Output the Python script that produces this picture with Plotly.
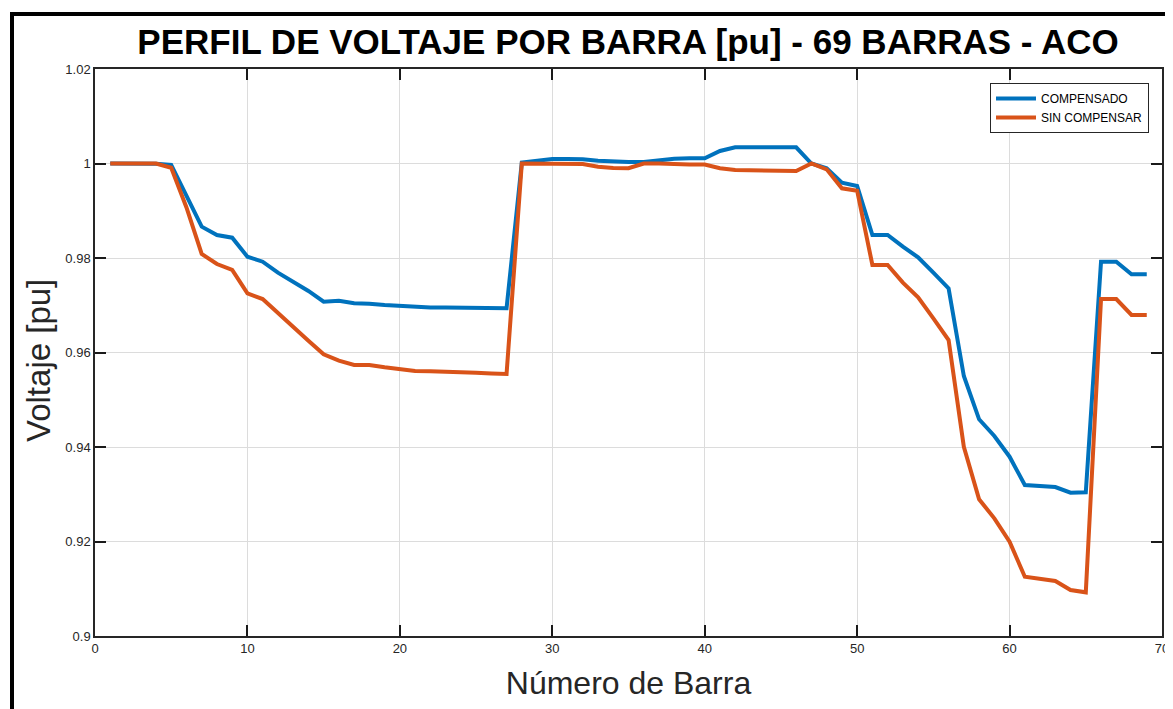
import plotly.graph_objects as go

bus = list(range(1, 70))

compensado = [
    1.0000, 1.0000, 1.0000, 0.99995, 0.9997, 0.9932, 0.98663, 0.98487, 0.98430, 0.98028,
    0.97922, 0.97689, 0.97499, 0.97302, 0.97076, 0.97097, 0.97041, 0.97034, 0.97005, 0.96984,
    0.96956, 0.96952, 0.96950, 0.96945, 0.96942, 0.96940, 0.96935, 1.0002, 1.0006, 1.00095,
    1.00095, 1.0009, 1.0006, 1.0004, 1.0003, 1.0003, 1.0007, 1.0010, 1.0011, 1.0011,
    1.00265, 1.00343, 1.00343, 1.00343, 1.00343, 1.00343, 1.0000, 0.9990, 0.99594, 0.99524,
    0.98487, 0.98487, 0.98240, 0.98014, 0.97689, 0.97358, 0.95503, 0.94586, 0.94233, 0.93795,
    0.93196, 0.93181, 0.93153, 0.93033, 0.93040, 0.97922, 0.97922, 0.97655, 0.97655,
]

sin_compensar = [
    1.0000, 1.0000, 1.0000, 1.0000, 0.99911, 0.9907, 0.98085, 0.97873, 0.97746, 0.97253,
    0.97132, 0.96829, 0.96546, 0.96250, 0.95962, 0.95827, 0.95735, 0.95733, 0.95686, 0.95651,
    0.95608, 0.95605, 0.95598, 0.95584, 0.95570, 0.95556, 0.95545, 1.0000, 1.0000, 0.99998,
    0.99998, 0.9999, 0.99933, 0.99905, 0.9990, 1.0000, 0.99998, 0.9998, 0.9998, 0.9998,
    0.9990, 0.99862, 0.99862, 0.9986, 0.9986, 0.99841, 1.0000, 0.99877, 0.99475, 0.99425,
    0.97852, 0.97852, 0.97478, 0.97168, 0.96723, 0.96265, 0.94006, 0.92893, 0.92490, 0.91996,
    0.91255, 0.91220, 0.91164, 0.90974, 0.90924, 0.97132, 0.97132, 0.96794, 0.96794,
]

x_ticks = [0, 10, 20, 30, 40, 50, 60, 70]
y_ticks = [0.9, 0.92, 0.94, 0.96, 0.98, 1.0, 1.02]
y_ticktext = ["0.9", "0.92", "0.94", "0.96", "0.98", "1", "1.02"]

FONT = "Liberation Sans, Arial, Helvetica, sans-serif"

fig = go.Figure()
fig.add_trace(go.Scatter(x=bus, y=compensado, mode="lines", name="COMPENSADO",
                         line=dict(color="#0072BD", width=4)))
fig.add_trace(go.Scatter(x=bus, y=sin_compensar, mode="lines", name="SIN COMPENSAR",
                         line=dict(color="#D95319", width=4)))

# page has an 8px body margin, so the figure is laid out 8px smaller
W, H = 1165, 701
L, T = 87, 61
PW, PH = 1067, 567
R = W - L - PW
B = H - T - PH

axis_common = dict(
    showgrid=True, gridcolor="#dcdcdc", gridwidth=1,
    showline=True, linecolor="#262626", linewidth=1.5, mirror="ticks",
    ticks="inside", ticklen=11, tickwidth=2, tickcolor="#1a1a1a",
    zeroline=False, automargin=False,
    tickfont=dict(family=FONT, size=13, color="#262626"),
)

fig.update_layout(
    width=W, height=H, autosize=False,
    margin=dict(l=L, r=R, t=T, b=B, autoexpand=False),
    paper_bgcolor="white", plot_bgcolor="white",
    font=dict(family=FONT, color="#262626"),
    title=dict(text="<b>PERFIL DE VOLTAJE POR BARRA [pu] - 69 BARRAS - ACO</b>",
               x=620 / W, xanchor="center", y=1 - 34 / H, yanchor="middle",
               font=dict(family=FONT, size=35, color="black"),
               automargin=False),
    xaxis=dict(range=[0, 70], tickvals=x_ticks,
               title=dict(text="Número de Barra", font=dict(family=FONT, size=32, color="#262626"),
                          standoff=16),
               **axis_common),
    yaxis=dict(range=[0.9, 1.02], tickvals=y_ticks, ticktext=y_ticktext,
               **axis_common),
    legend=dict(x=(1141 - L) / PW, xanchor="right",
                y=(T + PH - 75) / PH, yanchor="top",
                bgcolor="white", bordercolor="#262626", borderwidth=1,
                font=dict(family=FONT, size=12, color="black"),
                tracegroupgap=0, itemwidth=40),
    showlegend=True,
)

fig.add_annotation(text="Voltaje [pu]", textangle=-90, showarrow=False,
                   xref="paper", yref="paper",
                   x=(30 - L) / PW, y=(T + PH - 353) / PH,
                   xanchor="center", yanchor="middle",
                   font=dict(family=FONT, size=33, color="#262626"))

fig.add_shape(type="rect", xref="paper", yref="paper",
              x0=(4 - L) / PW, x1=(1163 - L) / PW,
              y0=(T + PH - 740) / PH, y1=(T + PH - 6) / PH,
              line=dict(color="black", width=4), fillcolor="rgba(0,0,0,0)", layer="above")

fig.write_html("out.html")
